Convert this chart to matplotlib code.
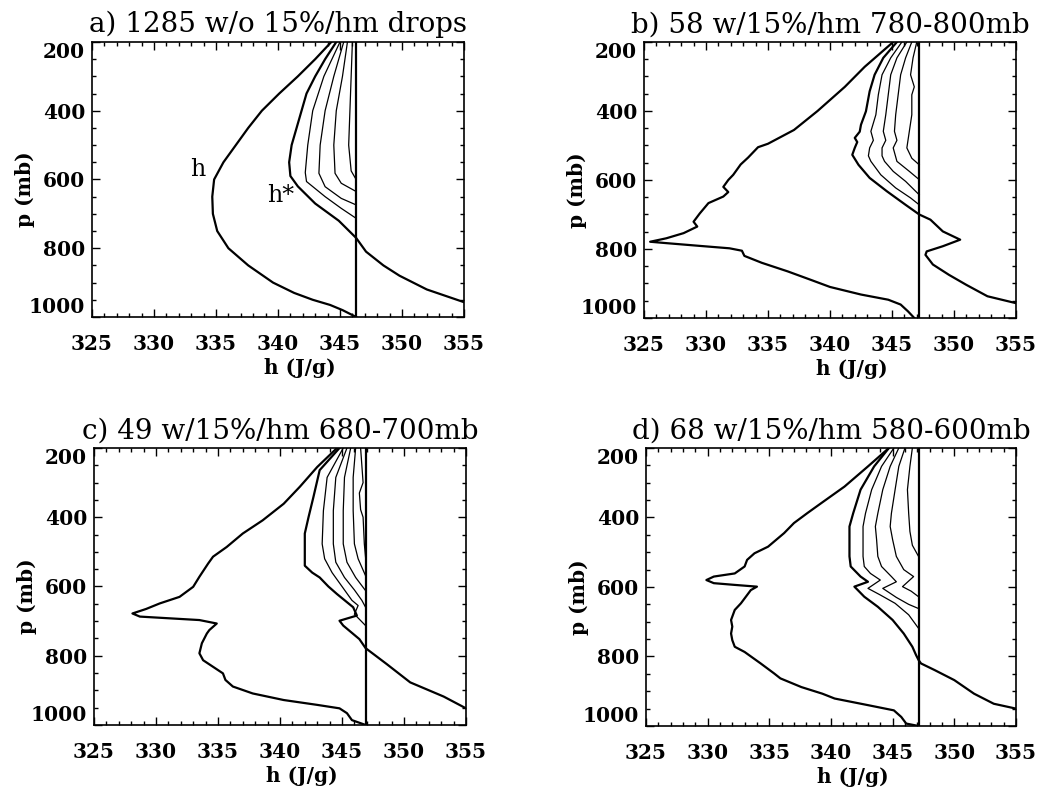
import matplotlib
matplotlib.use("Agg")
import matplotlib.pyplot as plt
from matplotlib.ticker import MultipleLocator

# ── Profiles: pressure (mb) and h (J/g) ─────────────────────────────────────

# a) 1285 soundings without drops
A_H_P = [200, 250, 300, 350, 400, 450, 500, 550, 600, 650, 700, 750, 800, 850, 900, 930, 950, 965, 980, 1000]
A_H = [344.3, 343.0, 341.6, 340.1, 338.7, 337.6, 336.6, 335.6, 334.85, 334.7, 334.75, 335.1, 336.0, 337.6,
       339.6, 341.3, 342.8, 344.2, 345.2, 346.3]
A_HS_P = [200, 250, 300, 350, 400, 450, 500, 550, 590, 620, 670, 720, 770, 810, 850, 880, 920, 957, 1000]
A_HS = [344.7, 343.8, 343.0, 342.3, 341.9, 341.5, 341.1, 340.9, 341.0, 341.6, 343.0, 344.9, 346.3, 347.1,
        348.5, 349.8, 352.0, 355.0, 357.8]
A_T1_P = [200, 300, 400, 500, 580, 606, 650, 684, 713]
A_T1 = [345.0, 343.7, 342.8, 342.4, 342.2, 342.3, 343.8, 345.1, 346.3]
A_T2_P = [200, 300, 400, 500, 582, 621, 655, 674]
A_T2 = [345.3, 344.5, 343.8, 343.4, 343.3, 343.8, 345.1, 346.3]
A_T3_P = [200, 300, 400, 500, 582, 611, 635]
A_T3 = [345.6, 345.2, 344.7, 344.5, 344.6, 345.1, 346.3]
A_T4_P = [200, 300, 400, 500, 575, 600]
A_T4 = [346.0, 345.9, 345.8, 345.7, 345.9, 346.3]
A_HSURF = 346.3

# b) 58 soundings with drops at 780-800 mb
B_H_P = [200, 272, 330, 400, 455, 495, 505, 535, 555, 585, 600, 620, 635, 648, 667, 697, 721, 735, 754, 769,
         779, 783, 791, 798, 805, 820, 840, 865, 890, 910, 932, 947, 961, 981, 1000]
B_H = [345.1, 342.8, 341.2, 339.0, 337.1, 335.0, 334.2, 333.4, 332.8, 332.2, 331.8, 331.4, 331.8, 331.4,
       330.2, 329.5, 329.0, 329.3, 328.2, 326.8, 325.5, 326.8, 329.5, 331.9, 332.9, 333.1, 334.5, 336.6,
       338.5, 340.0, 342.5, 344.7, 345.7, 346.3, 346.8]
B_HS_P = [200, 246, 295, 343, 401, 440, 460, 478, 490, 507, 527, 556, 594, 633, 672, 700, 715, 749, 773,
          792, 807, 817, 845, 875, 904, 937, 957, 1000]
B_HS = [345.4, 344.3, 343.6, 343.2, 342.9, 342.5, 342.4, 342.0, 342.2, 342.0, 341.8, 342.3, 343.2, 344.6,
        346.1, 347.2, 348.1, 349.1, 350.5, 349.1, 347.8, 347.7, 348.3, 349.6, 351.0, 352.7, 355.0, 358.0]
B_T1_P = [200, 246, 295, 353, 411, 459, 485, 507, 530, 546, 585, 623, 652, 672]
B_T1 = [345.8, 344.9, 344.2, 343.9, 343.7, 343.3, 343.5, 343.2, 343.1, 343.3, 344.1, 345.3, 346.5, 347.2]
B_T2_P = [200, 246, 295, 353, 411, 459, 485, 507, 530, 546, 575, 604, 643]
B_T2 = [346.2, 345.4, 344.9, 344.7, 344.5, 344.3, 344.5, 344.2, 344.2, 344.4, 345.1, 346.1, 347.2]
B_T3_P = [200, 246, 295, 353, 411, 459, 485, 507, 546, 575, 599]
B_T3 = [346.6, 346.1, 345.7, 345.5, 345.3, 345.2, 345.4, 345.1, 345.4, 346.4, 347.2]
B_T4_P = [200, 246, 295, 330, 353, 411, 459, 507, 537, 556]
B_T4 = [347.0, 346.7, 346.5, 346.8, 346.6, 346.6, 346.4, 346.2, 346.6, 347.2]
B_HSURF = 347.2

# c) 49 soundings with drops at 680-700 mb
C_H_P = [200, 255, 312, 361, 409, 447, 486, 514, 534, 572, 601, 630, 649, 665, 678, 687, 697, 707, 726, 736,
         764, 793, 813, 832, 851, 870, 889, 909, 928, 942, 952, 966, 986, 1000]
C_H = [344.6, 343.0, 341.6, 340.3, 338.6, 337.0, 335.7, 334.6, 334.2, 333.5, 333.0, 331.9, 330.3, 329.2,
       328.1, 328.7, 333.5, 334.9, 334.3, 334.1, 333.7, 333.5, 333.8, 334.6, 335.4, 335.6, 336.2, 337.8,
       340.3, 343.0, 344.8, 345.4, 345.8, 346.9]
C_HS_P = [200, 264, 341, 400, 447, 500, 540, 560, 574, 600, 622, 660, 684, 699, 713, 752, 778, 824, 877,
          918, 952, 1000]
C_HS = [344.8, 343.2, 342.7, 342.3, 342.0, 342.0, 342.0, 342.6, 343.2, 343.9, 344.6, 345.9, 346.2, 344.8,
        345.1, 346.4, 346.9, 348.6, 350.5, 353.2, 355.0, 357.0]
C_T1_P = [200, 285, 381, 477, 520, 560, 600, 640, 655, 680, 713]
C_T1 = [345.1, 343.8, 343.5, 343.4, 343.6, 344.2, 345.0, 345.8, 346.3, 346.0, 346.9]
C_T2_P = [200, 285, 381, 477, 530, 574, 610, 640, 660]
C_T2 = [345.4, 344.5, 344.3, 344.3, 344.5, 345.2, 346.0, 346.6, 346.9]
C_T3_P = [200, 285, 381, 477, 530, 574, 612]
C_T3 = [345.7, 345.2, 345.1, 345.1, 345.4, 346.1, 346.9]
C_T4_P = [200, 285, 381, 477, 520, 569]
C_T4 = [346.1, 345.9, 345.9, 346.0, 346.3, 346.9]
C_T5_P = [200, 300, 330, 378, 400, 477, 516]
C_T5 = [346.5, 346.7, 346.4, 346.5, 346.7, 346.8, 346.9]
C_HSURF = 346.9

# d) 68 soundings with drops at 580-600 mb
D_H_P = [200, 253, 311, 359, 387, 416, 445, 484, 503, 522, 541, 561, 570, 580, 589, 594, 599, 609, 647, 666,
         695, 714, 734, 753, 772, 787, 820, 849, 863, 888, 907, 921, 940, 955, 974, 993, 1000]
D_H = [344.7, 343.0, 341.1, 339.2, 338.1, 337.0, 336.2, 334.9, 333.8, 333.2, 333.0, 332.2, 330.5, 329.9,
       330.5, 332.2, 334.0, 333.5, 332.7, 332.2, 331.9, 332.0, 331.9, 332.0, 332.2, 333.0, 334.3, 335.4,
       335.9, 337.6, 339.3, 340.3, 343.0, 345.1, 345.7, 346.1, 347.1]
D_HS_P = [200, 253, 320, 388, 426, 464, 512, 541, 570, 585, 599, 628, 657, 695, 734, 772, 796, 810, 820, 839,
          868, 907, 936, 950, 1000]
D_HS = [344.7, 343.5, 342.4, 341.8, 341.5, 341.5, 341.5, 341.6, 342.4, 343.0, 341.9, 342.7, 343.8, 345.0,
        345.9, 346.6, 346.9, 347.1, 347.3, 348.4, 350.0, 351.6, 353.2, 355.0, 358.0]
D_T1_P = [200, 253, 320, 388, 426, 464, 512, 541, 561, 580, 604, 623, 647, 680, 719]
D_T1 = [345.1, 344.1, 343.3, 342.8, 342.6, 342.6, 342.6, 342.7, 343.2, 344.0, 343.0, 344.0, 345.2, 346.3, 347.1]
D_T2_P = [200, 253, 320, 388, 426, 464, 512, 541, 570, 585, 604, 630, 650, 662]
D_T2 = [345.5, 344.8, 344.2, 343.8, 343.6, 343.7, 343.8, 344.1, 344.9, 345.3, 344.2, 345.3, 346.3, 347.1]
D_T3_P = [200, 253, 320, 388, 426, 464, 512, 550, 570, 599, 612, 628]
D_T3 = [346.0, 345.5, 345.2, 344.9, 344.8, 345.0, 345.3, 345.9, 346.7, 345.8, 346.5, 347.1]
D_T4_P = [200, 253, 320, 388, 440, 480, 512]
D_T4 = [346.6, 346.4, 346.2, 346.3, 346.4, 346.6, 347.1]
D_HSURF = 347.1

TITLES = [
    "a) 1285 w/o 15%/hm drops",
    "b) 58 w/15%/hm 780-800mb",
    "c) 49 w/15%/hm 680-700mb",
    "d) 68 w/15%/hm 580-600mb",
]
X_TICKS = [325, 330, 335, 340, 345, 350, 355]
Y_TICKS = [200, 400, 600, 800, 1000]

PANELS = [
    dict(h=(A_H_P, A_H), hs=(A_HS_P, A_HS), thin=[(A_T1_P, A_T1), (A_T2_P, A_T2), (A_T3_P, A_T3),
                                                   (A_T4_P, A_T4)], hsurf=A_HSURF),
    dict(h=(B_H_P, B_H), hs=(B_HS_P, B_HS), thin=[(B_T1_P, B_T1), (B_T2_P, B_T2), (B_T3_P, B_T3),
                                                   (B_T4_P, B_T4)], hsurf=B_HSURF),
    dict(h=(C_H_P, C_H), hs=(C_HS_P, C_HS), thin=[(C_T1_P, C_T1), (C_T2_P, C_T2), (C_T3_P, C_T3),
                                                   (C_T4_P, C_T4), (C_T5_P, C_T5)], hsurf=C_HSURF),
    dict(h=(D_H_P, D_H), hs=(D_HS_P, D_HS), thin=[(D_T1_P, D_T1), (D_T2_P, D_T2), (D_T3_P, D_T3),
                                                   (D_T4_P, D_T4)], hsurf=D_HSURF),
]

# axes boxes in figure fractions (left, bottom, width, height)
RECTS = [
    (0.0871, 0.6013, 0.3523, 0.3459),
    (0.6098, 0.6000, 0.3523, 0.3472),
    (0.0890, 0.0881, 0.3523, 0.3484),
    (0.6117, 0.0868, 0.3504, 0.3497),
]

# ── Plot ─────────────────────────────────────────────────────────────────────

plt.rcParams.update({
    "font.family": "DejaVu Serif",
    "axes.linewidth": 1.2,
})

fig = plt.figure(figsize=(10.56, 7.95), dpi=100)

for rect, title, panel in zip(RECTS, TITLES, PANELS):
    ax = fig.add_axes(rect)

    for ps, hs in panel["thin"]:
        ax.plot(hs, ps, color="black", linewidth=0.9, solid_joinstyle="round")
    ax.plot(panel["hs"][1], panel["hs"][0], color="black", linewidth=1.6, solid_joinstyle="round")
    ax.plot(panel["h"][1], panel["h"][0], color="black", linewidth=1.6, solid_joinstyle="round")
    ax.plot([panel["hsurf"], panel["hsurf"]], [Y_TICKS[0], Y_TICKS[-1]], color="black", linewidth=1.6)

    ax.set_xlim(X_TICKS[0], X_TICKS[-1])
    ax.set_ylim(Y_TICKS[-1], Y_TICKS[0])
    ax.set_xticks(X_TICKS)
    ax.set_yticks(Y_TICKS)
    ax.xaxis.set_minor_locator(MultipleLocator(1))
    ax.yaxis.set_minor_locator(MultipleLocator(50))
    ax.tick_params(which="both", direction="in", top=True, right=True, width=1.0)
    ax.tick_params(which="major", length=6)
    ax.tick_params(which="minor", length=3)
    ax.tick_params(axis="x", pad=12, labelsize=14.5)
    ax.tick_params(axis="y", pad=5, labelsize=14.5)
    for lab in ax.get_xticklabels() + ax.get_yticklabels():
        lab.set_fontweight("bold")
    yt = ax.yaxis.get_major_ticks()
    yt[0].label1.set_va("top")
    yt[-1].label1.set_va("bottom")

    ax.set_title(title, fontsize=20, pad=7)
    ax.set_xlabel("h (J/g)", fontsize=14.5, fontweight="bold")
    ax.set_ylabel("p (mb)", fontsize=14.5, fontweight="bold")
    ax.xaxis.set_label_coords(0.559, -0.185)
    ax.xaxis.label.set_va("center")
    ax.yaxis.set_label_coords(-0.18, 0.464)
    ax.yaxis.label.set_va("center")

    if title.startswith("a)"):
        ax.text(333.5, 571, "h", fontsize=17, ha="center", va="center")
        ax.text(340.2, 648, "h*", fontsize=17, ha="center", va="center")

plt.savefig("out.png", dpi=100)
